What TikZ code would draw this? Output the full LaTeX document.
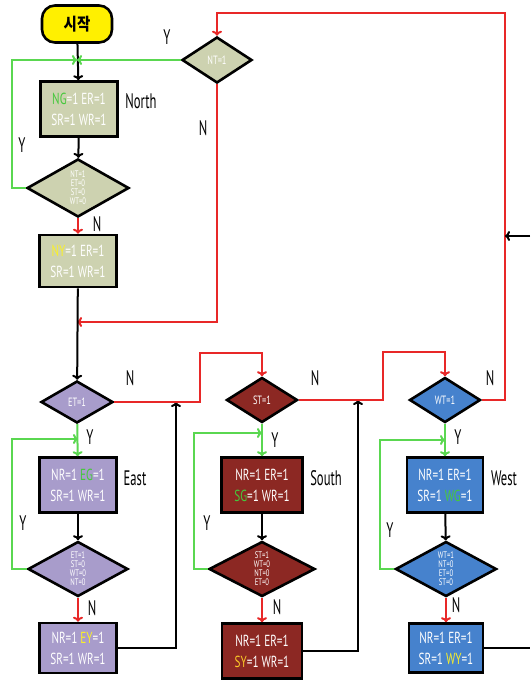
\documentclass[tikz,border=0pt]{standalone}
\usepackage{fontspec}
\setmainfont{PT Sans}[FakeStretch=0.7]
\newfontfamily\lblfont{PT Sans}[FakeStretch=0.6]
\newfontfamily\krfont{Noto Sans CJK KR}[FakeStretch=0.85]
\usetikzlibrary{shapes.geometric,arrows.meta}
\definecolor{khaki}{RGB}{205,210,176}
\definecolor{lav}{RGB}{168,156,203}
\definecolor{maroon}{RGB}{140,40,35}
\definecolor{sky}{RGB}{70,130,205}
\definecolor{startyel}{RGB}{255,240,0}
\definecolor{lred}{RGB}{232,40,40}
\definecolor{lgreen}{RGB}{90,215,80}
\definecolor{hgreen}{RGB}{70,200,60}
\definecolor{hyel}{RGB}{250,240,40}
\definecolor{horange}{RGB}{250,200,40}
\tikzset{
  box/.style={draw=black, line width=2.6pt, minimum width=77pt, minimum height=55pt, inner sep=0pt, align=center, text=white, font=\fontsize{16}{21}\selectfont},
  dia/.style={diamond, draw=black, line width=2.6pt, inner sep=0pt, aspect=1.8, align=center, text=white, font=\fontsize{9.5}{9}\selectfont},
  dia1/.style={font=\fontsize{12}{12}\selectfont},
  conn/.style={line width=2pt, -{To[length=5pt,width=10pt]}},
  plain/.style={line width=2pt},
  lbl/.style={font=\lblfont\fontsize{21}{21}\selectfont, text=black},
}
\begin{document}
\begin{tikzpicture}[x=1pt,y=-1pt]
\useasboundingbox (0,0) rectangle (530,684);
% nodes
\node[draw=black, line width=2.6pt, fill=startyel, rounded corners=13pt, minimum width=70pt, minimum height=37pt, font=\krfont\bfseries\fontsize{17}{17}\selectfont] (start) at (77,24) {시작};
\node[box, fill=khaki] (n1) at (79,109) {\textcolor{hgreen}{NG}=1 ER=1\\SR=1 WR=1};
\node[dia, fill=khaki, minimum width=102pt, minimum height=58pt] (nd) at (78,188) {NT=1\\ET=0\\ST=0\\WT=0};
\node[box, fill=khaki, minimum height=52pt] (n2) at (78,261) {\textcolor{hyel}{NY}=1 ER=1\\SR=1 WR=1};
\node[dia, dia1, fill=khaki, minimum width=70pt, minimum height=46pt] (nt) at (217,60) {NT=1};

\node[dia, dia1, fill=lav, minimum width=72pt, minimum height=42pt] (et) at (77,402) {ET=1};
\node[box, fill=lav] (e1) at (78,485) {NR=1 \textcolor{hgreen}{EG}=1\\SR=1 WR=1};
\node[dia, fill=lav, minimum width=100pt, minimum height=55pt] (ed) at (78,569) {ET=1\\ST=0\\WT=0\\NT=0};
\node[box, fill=lav, minimum height=50pt] (e2) at (78,648) {NR=1 \textcolor{hyel}{EY}=1\\SR=1 WR=1};

\node[dia, dia1, fill=maroon, minimum width=71pt, minimum height=45pt] (st) at (262,400) {ST=1};
\node[box, fill=maroon, minimum width=81pt] (s1) at (262,485) {NR=1 ER=1\\\textcolor{hgreen}{SG}=1 WR=1};
\node[dia, fill=maroon, minimum width=106pt, minimum height=55pt] (sd) at (262,569) {ST=1\\WT=0\\NT=0\\ET=0};
\node[box, fill=maroon, minimum width=80pt] (s2) at (262,651) {NR=1 ER=1\\\textcolor{horange}{SY}=1 WR=1};

\node[dia, dia1, fill=sky, minimum width=71pt, minimum height=45pt] (wt) at (445,400) {WT=1};
\node[box, fill=sky, minimum width=76pt] (w1) at (445,485) {NR=1 ER=1\\SR=1 \textcolor{hgreen}{WG}=1};
\node[dia, fill=sky, minimum width=101pt, minimum height=55pt] (wd) at (446,569) {WT=1\\NT=0\\ET=0\\ST=0};
\node[box, fill=sky, minimum width=74pt, minimum height=49pt] (w2) at (446,648) {NR=1 ER=1\\SR=1 \textcolor{hyel}{WY}=1};

% junction coordinates
\coordinate (jN) at (77,60);
\coordinate (jE) at (77,322);
\coordinate (jS) at (176,402);
\coordinate (jW) at (358,400);
\coordinate (jR) at (505,236);
\coordinate (edgeR) at (530,236);
\coordinate (edgeB) at (530,648);

% North column
\draw[conn] (start) -- (n1);
\draw[conn] (n1) -- (nd);
\draw[conn, lred] (nd) -- (n2);
\draw[conn, lgreen] (nd.west) -- (12,188) -- (12,60) -- (jN);
\draw[conn, lgreen] (nt.west) -- (jN);
\draw[conn, lred] (nt.south) -- (217,322) -- (jE);
\draw[conn] (n2) -- (et);

% top red loop from West test
\draw[conn, lred] (wt.east) -- (505,400) -- (505,13) -| (nt.north);
\draw[conn] (edgeR) -- (jR);

% East column
\draw[conn, lgreen] (et) -- (e1);
\draw[conn] (e1) -- (ed);
\draw[conn, lred] (ed) -- (e2);
\draw[conn, lgreen] (ed.west) -- (12,569) -- (12,439) -- (78,439);
\draw[conn] (e2.east) -- (176,648) -- (jS);
\draw[conn, lred] (et.east) -- (200,402) -- (200,353) -| (st.north);

% South column
\draw[conn, lgreen] (st) -- (s1);
\draw[conn] (s1) -- (sd);
\draw[conn, lred] (sd) -- (s2);
\draw[conn, lgreen] (sd.west) -- (194,569) -- (194,433) -- (262,433);
\draw[conn] (s2.east) -- (358,651) -- (jW);
\draw[conn, lred] (st.east) -- (383,400) -- (383,352) -| (wt.north);

% West column
\draw[conn, lgreen] (wt) -- (w1);
\draw[conn] (w1) -- (wd);
\draw[conn, lred] (wd) -- (w2);
\draw[conn, lgreen] (wd.west) -- (380,569) -- (380,440) -- (445,440);
\draw[plain] (w2.east) -- (edgeB);

% labels
\node[lbl] (lYnt) at (167,37) {Y};
\node[lbl] (lNnt) at (203,128) {N};
\node[lbl] (lYn) at (22,145) {Y};
\node[lbl] (lNn) at (97,224) {N};
\node[lbl] (lNorth) at (141,101) {North};
\node[lbl] (lNet) at (130,378) {N};
\node[lbl] (lYet) at (90,437) {Y};
\node[lbl] (lEast) at (135,478) {East};
\node[lbl] (lYe) at (23,523) {Y};
\node[lbl] (lNe) at (92,608) {N};
\node[lbl] (lNst) at (315,378) {N};
\node[lbl] (lYst) at (275,440) {Y};
\node[lbl] (lSouth) at (326,478) {South};
\node[lbl] (lYs) at (207,523) {Y};
\node[lbl] (lNs) at (277,607) {N};
\node[lbl] (lNwt) at (490,378) {N};
\node[lbl] (lYwt) at (458,437) {Y};
\node[lbl] (lWest) at (504,478) {West};
\node[lbl] (lYw) at (390,530) {Y};
\node[lbl] (lNw) at (456,605) {N};
\end{tikzpicture}
\end{document}
